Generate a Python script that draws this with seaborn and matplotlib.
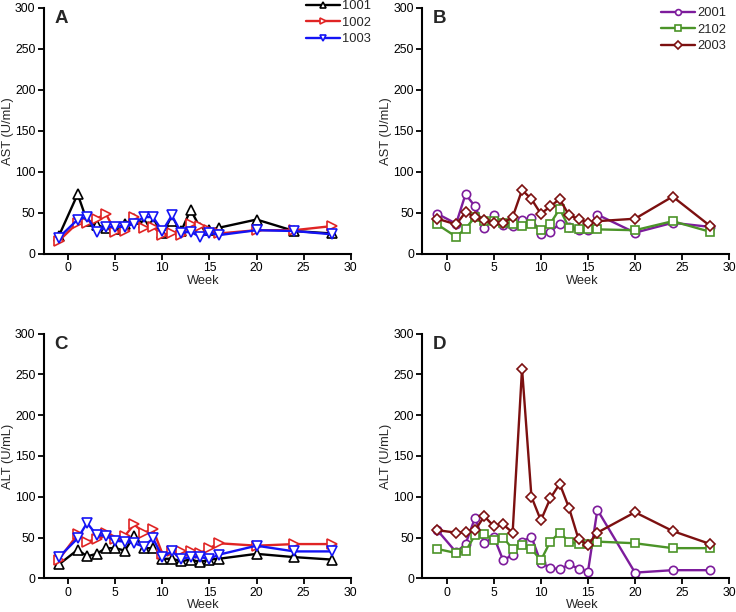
import numpy as np
import pandas as pd
import matplotlib
matplotlib.use("Agg")
import matplotlib.pyplot as plt
import seaborn as sns


# DATA

weeks = [-1, 1, 2, 3, 4, 5, 6, 7, 8, 9, 10, 11, 12, 13, 14, 15, 16, 20, 24, 28]

ast_1001 = [22, 73, 40, 35, 32, 30, 37, 43, 38, 38, 26, 40, 28, 54, 32, 29, 32, 42, 28, 25]
ast_1002 = [16, 38, 38, 43, 49, 27, 28, 45, 32, 33, 23, 26, 23, 36, 34, 29, 25, 29, 29, 34]
ast_1003 = [20, 42, 45, 27, 33, 33, 33, 37, 45, 45, 28, 47, 26, 27, 21, 26, 23, 29, 28, 24]

ast_2001 = [49, 37, 73, 58, 32, 47, 35, 34, 41, 44, 24, 27, 37, 33, 29, 29, 48, 26, 38, 33]
ast_2102 = [36, 21, 31, 45, 40, 40, 38, 36, 34, 36, 29, 37, 55, 32, 30, 30, 30, 29, 40, 27]
ast_2003 = [43, 36, 51, 45, 41, 38, 38, 45, 78, 67, 49, 58, 67, 47, 43, 38, 40, 43, 70, 34]

alt_1001 = [17, 35, 27, 30, 37, 37, 34, 52, 37, 37, 24, 24, 21, 23, 20, 23, 24, 30, 26, 23]
alt_1002 = [23, 54, 45, 48, 55, 48, 52, 66, 56, 60, 30, 33, 33, 33, 31, 37, 43, 40, 42, 42]
alt_1003 = [26, 49, 68, 53, 52, 46, 45, 43, 39, 49, 26, 33, 24, 26, 26, 24, 29, 40, 33, 33]

alt_2001 = [59, 32, 42, 74, 43, 51, 22, 29, 45, 51, 19, 13, 11, 17, 12, 8, 84, 7, 10, 10]
alt_2102 = [36, 31, 33, 53, 54, 47, 50, 36, 41, 36, 22, 45, 56, 45, 42, 42, 45, 43, 37, 37]
alt_2003 = [59, 56, 57, 59, 76, 64, 66, 56, 257, 100, 71, 98, 116, 86, 48, 41, 56, 81, 58, 42]

group1_ids = ["1001", "1002", "1003"]
group2_ids = ["2001", "2102", "2003"]

x_ticks = [0, 5, 10, 15, 20, 25, 30]
y_ticks = [0, 50, 100, 150, 200, 250, 300]


# STYLE

sns.set_theme(style="ticks")
plt.rcParams["font.family"] = ["Liberation Sans", "DejaVu Sans"]

STYLE = {
    "1001": ("black", "^", 6.5),
    "1002": ("#e02424", ">", 6.5),
    "1003": ("#1414f5", "v", 6.5),
    "2001": ("#7d1c9c", "o", 6.0),
    "2102": ("#4b9428", "s", 5.3),
    "2003": ("#7c1010", "D", 5.3),
}

FS = 8.8


def draw_panel(ax, ids, series, letter, ylabel, legend_at=None):

    for pid, vals in zip(ids, series):

        color, marker, msize = STYLE[pid]

        df = pd.DataFrame({"week": weeks, "value": vals})

        sns.lineplot(
            data=df,
            x="week",
            y="value",
            ax=ax,
            color=color,
            marker=marker,
            markersize=msize,
            markerfacecolor="white",
            markeredgecolor=color,
            markeredgewidth=1.2,
            linewidth=1.7,
            label=pid,
        )

    ax.set_xlim(-2.6, 30)
    ax.set_ylim(0, 300)

    ax.set_xticks(x_ticks)
    ax.set_yticks(y_ticks)

    ax.tick_params(
        direction="out",
        length=4,
        width=1.3,
        labelsize=FS,
        colors="black",
        pad=2,
    )

    sns.despine(ax=ax)

    for side in ["left", "bottom"]:
        ax.spines[side].set_linewidth(1.5)
        ax.spines[side].set_color("black")

    ax.set_xlabel("Week", fontsize=FS + 0.5)
    ax.set_ylabel(ylabel, fontsize=FS + 0.5)
    ax.xaxis.set_label_coords(0.52, -0.085)
    ax.yaxis.set_label_coords(-0.097, 0.5)

    ax.text(
        0.035,
        0.99,
        letter,
        transform=ax.transAxes,
        ha="left",
        va="top",
        fontsize=13.5,
        fontweight="bold",
    )

    if legend_at is not None:
        ax.legend(
            loc="upper left",
            bbox_to_anchor=legend_at,
            bbox_transform=ax.figure.transFigure,
            frameon=False,
            fontsize=FS + 0.5,
            handlelength=2.6,
            handletextpad=0.2,
            labelspacing=0.35,
            borderpad=0,
            borderaxespad=0,
            markerscale=0.7,
        )
    else:
        leg = ax.get_legend()
        if leg is not None:
            leg.remove()


# FIGURE

fig = plt.figure(figsize=(7.36, 6.12), dpi=100)

w = 0.417
h_top = 0.402
h_bot = 0.400

ax_a = fig.add_axes([0.0595, 0.585, w, h_top])
ax_b = fig.add_axes([0.5737, 0.585, w, h_top])
ax_c = fig.add_axes([0.0595, 0.055, w, h_bot])
ax_d = fig.add_axes([0.5737, 0.055, w, h_bot])

draw_panel(
    ax_a,
    group1_ids,
    [ast_1001, ast_1002, ast_1003],
    "A",
    "AST (U/mL)",
    legend_at=(306 / 736, 1 - 0 / 612),
)

draw_panel(
    ax_b,
    group2_ids,
    [ast_2001, ast_2102, ast_2003],
    "B",
    "AST (U/mL)",
    legend_at=(661 / 736, 1 - 7 / 612),
)

draw_panel(
    ax_c,
    group1_ids,
    [alt_1001, alt_1002, alt_1003],
    "C",
    "ALT (U/mL)",
)

draw_panel(
    ax_d,
    group2_ids,
    [alt_2001, alt_2102, alt_2003],
    "D",
    "ALT (U/mL)",
)

fig.savefig("out.png", dpi=100)
